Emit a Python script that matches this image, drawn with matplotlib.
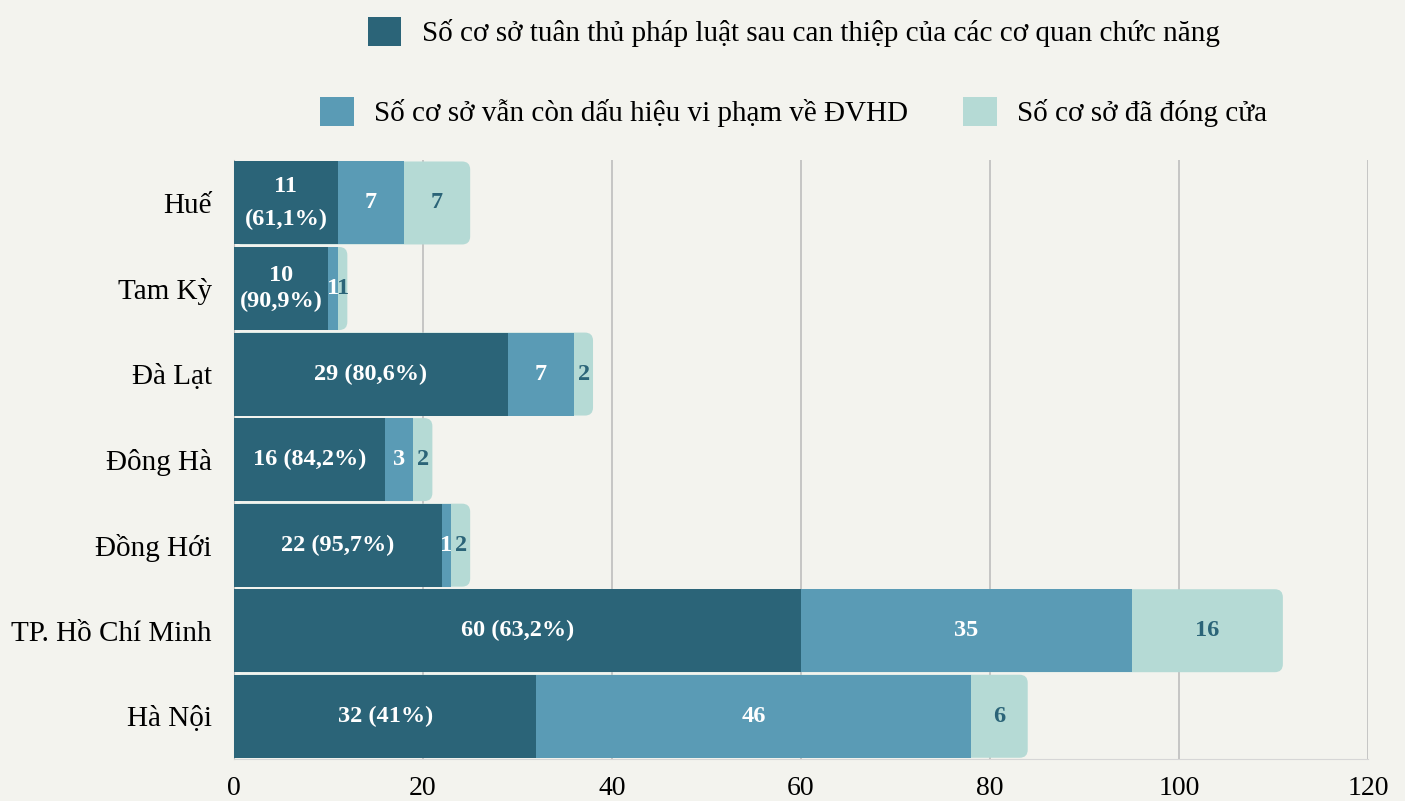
import matplotlib
matplotlib.use("Agg")
import matplotlib.pyplot as plt
from matplotlib.patches import FancyBboxPatch, Patch

# Data (top to bottom as drawn)
cities = ["Huế", "Tam Kỳ", "Đà Lạt", "Đông Hà", "Đồng Hới", "TP. Hồ Chí Minh", "Hà Nội"]
compliant = [11, 10, 29, 16, 22, 60, 32]
violating = [7, 1, 7, 3, 1, 35, 46]
closed = [7, 1, 2, 2, 2, 16, 6]
compliant_labels = ["11\n(61,1%)", "10\n(90,9%)", "29 (80,6%)", "16 (84,2%)",
                    "22 (95,7%)", "60 (63,2%)", "32 (41%)"]
series_names = ["Số cơ sở tuân thủ pháp luật sau can thiệp của các cơ quan chức năng",
                "Số cơ sở vẫn còn dấu hiệu vi phạm về ĐVHD",
                "Số cơ sở đã đóng cửa"]
xticks = [0, 20, 40, 60, 80, 100, 120]

DARK = "#2b6478"
MID = "#5a9bb5"
LIGHT = "#b5dad5"
BG = "#f3f3ee"

plt.rcParams["font.family"] = ["Liberation Serif", "DejaVu Serif"]

fig = plt.figure(figsize=(14.05, 8.01), dpi=100, facecolor=BG)
ax = fig.add_axes([0.1665, 0.0524, 0.8071, 0.7476])
ax.set_facecolor(BG)

y = list(range(len(cities)))
h = 0.97
left_mid = compliant
left_light = [a + b for a, b in zip(compliant, violating)]

b1 = ax.barh(y, compliant, height=h, color=DARK, zorder=3)
b2 = ax.barh(y, violating, left=left_mid, height=h, color=MID, zorder=3)
b3 = ax.barh(y, closed, left=left_light, height=h, color=LIGHT, zorder=2)

# round the right end of each bar: replace the last segment with a rounded box
# spanning the whole bar, kept under the other two segments
x_px = 1134 / 120
y_px = 85.0
for p in b3.patches:
    p.set_visible(False)
    end = p.get_x() + p.get_width()
    box = FancyBboxPatch((0, p.get_y()), end, p.get_height(),
                         boxstyle="round,pad=0,rounding_size=0.85",
                         mutation_aspect=x_px / y_px,
                         facecolor=LIGHT, edgecolor="none", zorder=2)
    ax.add_patch(box)

lab_kw = dict(ha="center", va="center", fontsize=17.5, fontweight="bold", zorder=5)
for i in y:
    ls = 1.7 if i == 0 else 1.3
    ax.text(compliant[i] / 2, i, compliant_labels[i], color="white",
            linespacing=ls, **lab_kw)
    ax.text(left_mid[i] + violating[i] / 2, i, str(violating[i]), color="white", **lab_kw)
    ax.text(left_light[i] + closed[i] / 2, i, str(closed[i]), color=DARK, **lab_kw)

ax.set_ylim(len(cities) - 0.5, -0.5)
ax.set_xlim(0, 120)
ax.set_xticks(xticks)
ax.set_yticks(y)
ax.set_yticklabels(cities, fontsize=21)
ax.tick_params(axis="x", labelsize=20, length=0, pad=12)
ax.tick_params(axis="y", length=0, pad=16)
ax.xaxis.grid(True, color="#bdbdbd", linewidth=1.2, zorder=0)
ax.set_axisbelow(True)
for s in ["top", "right"]:
    ax.spines[s].set_visible(False)
ax.spines["left"].set_color("#bdbdbd")
ax.spines["bottom"].set_color("#d6d6d6")

handles = [Patch(facecolor=c, edgecolor="none") for c in (DARK, MID, LIGHT)]
leg_kw = dict(frameon=False, fontsize=21, handlelength=1.15, handleheight=1.15,
              handletextpad=0.7, columnspacing=1.9)
leg1 = fig.legend(handles[:1], series_names[:1], loc="center",
                  bbox_to_anchor=(0.565, 0.96), ncol=1, **leg_kw)
leg2 = fig.legend(handles[1:], series_names[1:], loc="center",
                  bbox_to_anchor=(0.565, 0.86), ncol=2, **leg_kw)

fig.savefig("out.png", dpi=100, facecolor=BG)
